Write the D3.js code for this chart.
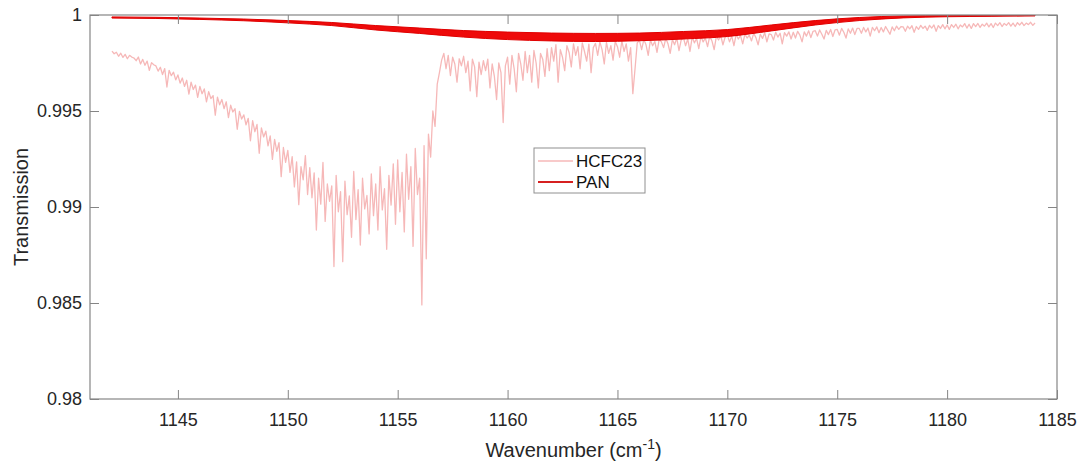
<!DOCTYPE html>
<html>
<head>
<meta charset="utf-8">
<script src="https://cdn.jsdelivr.net/npm/d3@7"></script>
<style>
  html, body { margin: 0; padding: 0; background: #ffffff; }
  svg { display: block; font-family: "Liberation Sans", Arial, sans-serif; }
</style>
</head>
<body>
<svg id="chart" width="1085" height="465"></svg>
<script>
// ---------------- DATA ----------------
const xTicks = [1145, 1150, 1155, 1160, 1165, 1170, 1175, 1180, 1185];
const xTickLabels = ["1145", "1150", "1155", "1160", "1165", "1170", "1175", "1180", "1185"];
const yTicks = [0.98, 0.985, 0.99, 0.995, 1];
const yTickLabels = ["0.98", "0.985", "0.99", "0.995", "1"];
const seriesNames = ["HCFC23", "PAN"];

// HCFC23 transmission sampled on the spectral grid 1142.0, 1142.1, ... 1184.0 cm-1
const hcfcStart = 1142.0;
const hcfcStep = 0.1;
const hcfc23 = [
  0.99812,0.99798,0.99806,0.99785,0.99801,0.99779,0.99795,0.99772,0.99790,0.99781,
  0.99776,0.99762,0.99781,0.99745,0.99769,0.99738,0.99760,0.99712,0.99752,0.99741,
  0.99735,0.99708,0.99728,0.99690,0.99721,0.99625,0.99712,0.99684,0.99702,0.99662,
  0.99688,0.99645,0.99672,0.99628,0.99660,0.99588,0.99650,0.99612,0.99635,0.99571,
  0.99628,0.99590,0.99615,0.99548,0.99601,0.99565,0.99580,0.99478,0.99572,0.99532,
  0.99560,0.99512,0.99548,0.99465,0.99530,0.99495,0.99512,0.99405,0.99498,0.99458,
  0.99480,0.99428,0.99462,0.99345,0.99450,0.99392,0.99430,0.99280,0.99412,0.99365,
  0.99395,0.99318,0.99370,0.99248,0.99352,0.99290,0.99335,0.99158,0.99310,0.99232,
  0.99295,0.99180,0.99262,0.99105,0.99235,0.99012,0.99210,0.99142,0.99268,0.99065,
  0.99205,0.99048,0.99178,0.98880,0.99150,0.99015,0.99232,0.98925,0.99120,0.99030,
  0.99110,0.98690,0.99165,0.98975,0.99080,0.98715,0.99135,0.98960,0.99058,0.98842,
  0.99185,0.98935,0.99090,0.98802,0.99150,0.98990,0.99060,0.98860,0.99172,0.98955,
  0.99120,0.98880,0.99210,0.98985,0.99095,0.98780,0.99165,0.99010,0.99225,0.98910,
  0.99245,0.98975,0.99180,0.98870,0.99275,0.99040,0.99210,0.98795,0.99305,0.99065,
  0.99150,0.98490,0.99320,0.98730,0.99380,0.99260,0.99500,0.99420,0.99640,0.99700,
  0.99765,0.99800,0.99720,0.99790,0.99685,0.99780,0.99745,0.99650,0.99772,0.99735,
  0.99785,0.99700,0.99760,0.99605,0.99770,0.99730,0.99575,0.99755,0.99690,0.99762,
  0.99710,0.99770,0.99620,0.99745,0.99680,0.99560,0.99750,0.99700,0.99440,0.99735,
  0.99780,0.99640,0.99790,0.99720,0.99600,0.99800,0.99745,0.99660,0.99810,0.99700,
  0.99790,0.99650,0.99815,0.99750,0.99620,0.99800,0.99770,0.99680,0.99825,0.99710,
  0.99830,0.99760,0.99845,0.99650,0.99820,0.99780,0.99710,0.99840,0.99805,0.99730,
  0.99850,0.99790,0.99835,0.99720,0.99855,0.99810,0.99760,0.99848,0.99700,0.99830,
  0.99852,0.99790,0.99860,0.99820,0.99745,0.99858,0.99800,0.99840,0.99765,0.99862,
  0.99835,0.99780,0.99865,0.99810,0.99850,0.99760,0.99830,0.99590,0.99720,0.99855,
  0.99868,0.99820,0.99872,0.99845,0.99790,0.99870,0.99840,0.99862,0.99805,0.99875,
  0.99860,0.99830,0.99878,0.99850,0.99800,0.99872,0.99845,0.99880,0.99815,0.99870,
  0.99882,0.99840,0.99875,0.99810,0.99885,0.99855,0.99878,0.99825,0.99888,0.99860,
  0.99880,0.99835,0.99890,0.99865,0.99820,0.99888,0.99870,0.99892,0.99845,0.99885,
  0.99895,0.99860,0.99890,0.99840,0.99898,0.99875,0.99893,0.99850,0.99900,0.99880,
  0.99895,0.99865,0.99905,0.99882,0.99845,0.99900,0.99878,0.99908,0.99860,0.99902,
  0.99898,0.99870,0.99910,0.99885,0.99905,0.99850,0.99908,0.99890,0.99912,0.99875,
  0.99910,0.99880,0.99915,0.99895,0.99860,0.99912,0.99890,0.99918,0.99882,0.99915,
  0.99918,0.99890,0.99922,0.99900,0.99875,0.99920,0.99898,0.99925,0.99888,0.99922,
  0.99925,0.99895,0.99930,0.99910,0.99880,0.99928,0.99905,0.99932,0.99898,0.99930,
  0.99930,0.99905,0.99935,0.99912,0.99932,0.99890,0.99936,0.99918,0.99938,0.99908,
  0.99935,0.99912,0.99940,0.99920,0.99900,0.99938,0.99918,0.99942,0.99925,0.99940,
  0.99938,0.99915,0.99942,0.99928,0.99944,0.99910,0.99940,0.99925,0.99946,0.99930,
  0.99942,0.99920,0.99946,0.99932,0.99948,0.99915,0.99945,0.99930,0.99950,0.99928,
  0.99948,0.99925,0.99950,0.99935,0.99952,0.99928,0.99948,0.99938,0.99955,0.99932,
  0.99952,0.99930,0.99955,0.99940,0.99956,0.99935,0.99952,0.99942,0.99958,0.99938,
  0.99955,0.99935,0.99958,0.99945,0.99960,0.99940,0.99956,0.99946,0.99960,0.99942,
  0.99958,0.99940,0.99960,0.99948,0.99962,0.99945,0.99958,0.99950,0.99962,0.99946,
  0.99958
];

// PAN: rapidly oscillating spectrum, given as upper / lower envelope of its fine structure
const panWavenumber = [1142,1144,1146,1148,1150,1152,1154,1156,1158,1160,1162,1164,1166,1168,1170,1172,1174,1176,1178,1180,1182,1184];
const panUpper = [0.99990,0.99988,0.99984,0.99979,0.99971,0.99961,0.99945,0.99932,0.99919,0.99911,0.99906,0.99904,0.99906,0.99914,0.99924,0.99948,0.99971,0.99987,0.99995,0.99997,0.99998,0.99999];
const panLower = [0.99984,0.99982,0.99977,0.99970,0.99959,0.99945,0.99922,0.99904,0.99885,0.99872,0.99865,0.99862,0.99866,0.99875,0.99888,0.99917,0.99948,0.99971,0.99985,0.99991,0.99993,0.99995];

// ---------------- CHART ----------------
const svg = d3.select("#chart");
const L = 90, R = 1057, T = 15, B = 399;
const x = d3.scaleLinear().domain([1141, 1185]).range([L, R]);
const y = d3.scaleLinear().domain([0.98, 1]).range([B, T]);

const axisColor = "#858585";
const textColor = "#262626";

svg.append("defs").append("clipPath").attr("id", "clip")
  .append("rect").attr("x", L).attr("y", T).attr("width", R - L).attr("height", B - T);

const plot = svg.append("g").attr("clip-path", "url(#clip)");

// HCFC23 line
const hcfcData = hcfc23.map((v, i) => ({ w: hcfcStart + i * hcfcStep, v }));
plot.append("path")
  .datum(hcfcData)
  .attr("fill", "none")
  .attr("stroke", "#f6b8b8")
  .attr("stroke-width", 1.3)
  .attr("stroke-linejoin", "round")
  .attr("d", d3.line().x(d => x(d.w)).y(d => y(d.v)));

// PAN band
const panData = panWavenumber.map((w, i) => ({ w, hi: panUpper[i], lo: panLower[i] }));
plot.append("path")
  .datum(panData)
  .attr("fill", "#ee0a0a")
  .attr("stroke", "#e00000")
  .attr("stroke-width", 1)
  .attr("d", d3.area().curve(d3.curveMonotoneX).x(d => x(d.w)).y0(d => y(d.lo)).y1(d => y(d.hi)));

// Axes
function styleAxis(g) {
  g.select(".domain").remove();
  g.selectAll(".tick line").attr("stroke", axisColor);
  g.selectAll(".tick text").attr("fill", textColor).attr("font-size", 18)
    .attr("font-family", "'Liberation Sans', Arial, sans-serif");
}
svg.append("g").attr("transform", `translate(0,${B})`)
  .call(d3.axisBottom(x).tickValues(xTicks).tickFormat((d, i) => xTickLabels[i]).tickSizeInner(-9).tickSizeOuter(0).tickPadding(14))
  .call(styleAxis);
svg.append("g").attr("transform", `translate(0,${T})`)
  .call(d3.axisTop(x).tickValues(xTicks).tickFormat("").tickSizeInner(-9).tickSizeOuter(0))
  .call(styleAxis);
svg.append("g").attr("transform", `translate(${L},0)`)
  .call(d3.axisLeft(y).tickValues(yTicks).tickFormat((d, i) => yTickLabels[i]).tickSizeInner(-9).tickSizeOuter(0).tickPadding(8))
  .call(styleAxis);
svg.append("g").attr("transform", `translate(${R},0)`)
  .call(d3.axisRight(y).tickValues(yTicks).tickFormat("").tickSizeInner(-9).tickSizeOuter(0))
  .call(styleAxis);

// Box
svg.append("rect").attr("x", L).attr("y", T).attr("width", R - L).attr("height", B - T)
  .attr("fill", "none").attr("stroke", axisColor).attr("stroke-width", 1.2);

// Axis labels
const xl = svg.append("text").attr("x", (L + R) / 2).attr("y", 457)
  .attr("text-anchor", "middle").attr("font-size", 20).attr("fill", textColor);
xl.append("tspan").text("Wavenumber (cm");
xl.append("tspan").attr("dy", -8).attr("font-size", 14).text("-1");
xl.append("tspan").attr("dy", 8).text(")");

svg.append("text")
  .attr("transform", `translate(28,${(T + B) / 2}) rotate(-90)`)
  .attr("text-anchor", "middle").attr("font-size", 20).attr("fill", textColor)
  .text("Transmission");

// Legend
const legend = svg.append("g");
legend.append("rect").attr("x", 534).attr("y", 148).attr("width", 111).attr("height", 45)
  .attr("fill", "#ffffff").attr("stroke", "#909090").attr("stroke-width", 1);
const legendColors = ["#f6b8b8", "#d62020"];
seriesNames.forEach((name, i) => {
  const ly = 161 + i * 21;
  legend.append("line").attr("x1", 538).attr("x2", 573).attr("y1", ly).attr("y2", ly)
    .attr("stroke", legendColors[i]).attr("stroke-width", i === 0 ? 1.5 : 2);
  legend.append("text").attr("x", 576).attr("y", ly + 6).attr("font-size", 17)
    .attr("fill", "#111").text(name);
});
</script>
</body>
</html>
